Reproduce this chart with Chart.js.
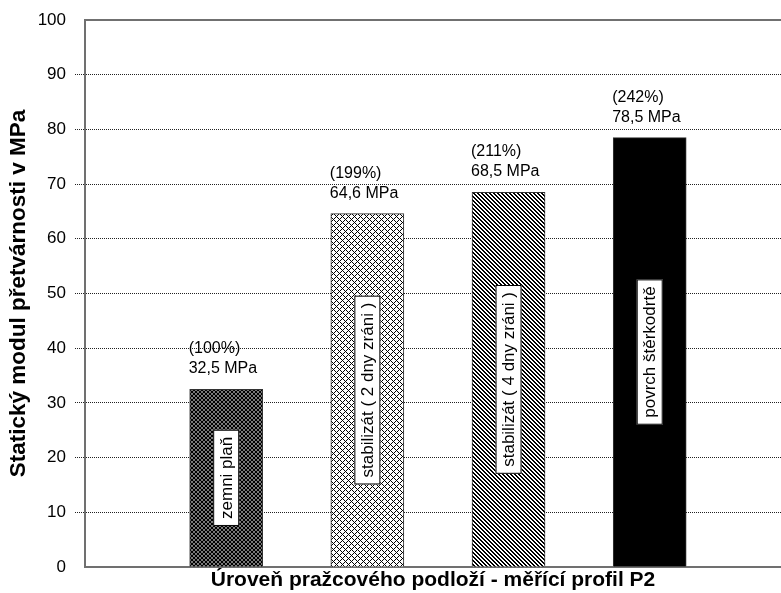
<!DOCTYPE html>
<html>
<head>
<meta charset="utf-8">
<script src="https://cdn.jsdelivr.net/npm/chart.js@4"></script>
<style>
  html, body { margin: 0; padding: 0; background: #fff; }
  #wrap { width: 781px; height: 593px; }
</style>
</head>
<body>
<div id="wrap"><canvas id="modulChart" width="781" height="593"></canvas></div>
<script>
// values
const categories = ['zemni plaň', 'stabilizát ( 2 dny zráni )', 'stabilizát ( 4 dny zráni )', 'povrch štěrkodrtě'];
const slots = [1, 2, 3, 4];
const modulValues = [32.5, 64.6, 68.5, 78.5];
const percentLabels = ['(100%)', '(199%)', '(211%)', '(242%)'];
const valueLabels = ['32,5 MPa', '64,6 MPa', '68,5 MPa', '78,5 MPa'];
const yMin = 0, yMax = 100, yStep = 10;

const FONT = "'Liberation Sans', Arial, sans-serif";

// hatch fills like the old excel chart
function makePattern(kind) {
    const c = document.createElement('canvas');
    const g = c.getContext('2d');
    if (kind === 'dots') {
        c.width = 4; c.height = 4;
        g.fillStyle = '#fff';
        g.fillRect(0, 0, 4, 4);
        g.fillStyle = '#000';
        [[0, 0], [4, 0], [0, 4], [4, 4], [2, 2]].forEach(p => {
            g.beginPath();
            g.arc(p[0], p[1], 1.45, 0, Math.PI * 2);
            g.fill();
        });
    } else if (kind === 'cross') {
        c.width = 6; c.height = 6;
        g.fillStyle = '#fff';
        g.fillRect(0, 0, 6, 6);
        g.fillStyle = '#000';
        for (let y = 0; y < 6; y++) {
            for (let x = 0; x < 6; x++) {
                if ((x - y + 6) % 6 === 0 || (x + y) % 6 === 0) g.fillRect(x, y, 1, 1);
            }
        }
    } else if (kind === 'diag') {
        c.width = 4; c.height = 4;
        g.fillStyle = '#fff';
        g.fillRect(0, 0, 4, 4);
        g.fillStyle = '#000';
        for (let y = 0; y < 4; y++) {
            for (let x = 0; x < 4; x++) {
                const d = (x - y + 4) % 4;
                if (d === 0 || d === 1) g.fillRect(x, y, 1, 1);
            }
        }
    } else {
        return '#000';
    }
    return g.createPattern(c, 'repeat');
}

const fills = [makePattern('dots'), makePattern('cross'), makePattern('diag'), makePattern('solid')];

// text above the bars and the boxed names inside them
const barLabels = {
    id: 'barLabels',
    afterDatasetsDraw(chart) {
        const ctx = chart.ctx;
        const meta = chart.getDatasetMeta(0);
        meta.data.forEach((bar, i) => {
            const left = bar.x - bar.width / 2;
            ctx.save();
            ctx.fillStyle = '#000';
            ctx.font = '16px ' + FONT;
            ctx.textAlign = 'left';
            ctx.textBaseline = 'alphabetic';
            ctx.fillText(percentLabels[i], left - 1, bar.y - 36);
            ctx.fillText(valueLabels[i], left - 1, bar.y - 16);

            // rotated name in a white box
            const midY = (bar.y + bar.base) / 2;
            ctx.translate(bar.x, midY);
            ctx.rotate(-Math.PI / 2);
            ctx.font = '17px ' + FONT;
            const w = ctx.measureText(categories[i]).width;
            const bw = w + 14, bh = 26;
            ctx.fillStyle = '#fff';
            ctx.fillRect(-bw / 2, -bh / 2, bw, bh);
            ctx.strokeStyle = '#000';
            ctx.lineWidth = 1;
            ctx.strokeRect(-bw / 2 + 0.5, -bh / 2 + 0.5, bw - 1, bh - 1);
            ctx.fillStyle = '#000';
            ctx.textAlign = 'center';
            ctx.textBaseline = 'middle';
            ctx.fillText(categories[i], 0, 1);
            ctx.restore();
        });
    },
    afterDraw(chart) {
        // solid top frame line at 100
        const a = chart.chartArea;
        const ctx = chart.ctx;
        ctx.save();
        ctx.strokeStyle = '#707070';
        ctx.lineWidth = 2;
        ctx.beginPath();
        ctx.moveTo(a.left - 1, a.top);
        ctx.lineTo(a.right, a.top);
        ctx.stroke();
        ctx.restore();
    }
};

const ctx = document.getElementById('modulChart').getContext('2d');
new Chart(ctx, {
    type: 'bar',
    data: {
        datasets: [{
            data: slots.map((s, i) => ({ x: s, y: modulValues[i] })),
            backgroundColor: fills,
            borderColor: '#333',
            borderWidth: 1,
            barThickness: 73
        }]
    },
    options: {
        responsive: false,
        animation: false,
        events: [],
        layout: { padding: { top: 20, right: 0, left: 0, bottom: 0 } },
        plugins: {
            legend: { display: false },
            tooltip: { enabled: false }
        },
        scales: {
            x: {
                type: 'linear',
                offset: false,
                min: 0,
                max: 4.93,
                ticks: { display: false, stepSize: 1 },
                grid: { display: false },
                border: { display: true, color: '#707070', width: 2 },
                title: {
                    display: true,
                    text: 'Úroveň pražcového podloží - měřící profil P2',
                    color: '#000',
                    font: { family: FONT, size: 21, weight: 'bold' },
                    padding: { top: 0, bottom: 0 }
                },
                afterFit: s => { s.height = 26; }
            },
            y: {
                min: yMin,
                max: yMax,
                ticks: {
                    stepSize: yStep,
                    color: '#000',
                    padding: 9,
                    font: { family: FONT, size: 17 }
                },
                grid: {
                    color: c => (c.tick && (c.tick.value === yMin || c.tick.value === yMax)) ? 'rgba(0,0,0,0)' : '#222',
                    tickColor: c => (c.tick && (c.tick.value === yMin || c.tick.value === yMax)) ? 'rgba(0,0,0,0)' : '#222',
                    lineWidth: 1,
                    tickLength: 10,
                    tickBorderDash: [1, 1]
                },
                border: { display: true, color: '#707070', width: 2, dash: [1, 1] },
                title: {
                    display: true,
                    text: 'Statický modul přetvárnosti v MPa',
                    color: '#000',
                    font: { family: FONT, size: 22.5, weight: 'bold' },
                    padding: { top: 5, bottom: 0 }
                },
                afterFit: s => { s.width = 85; }
            }
        }
    },
    plugins: [barLabels]
});
</script>
</body>
</html>
